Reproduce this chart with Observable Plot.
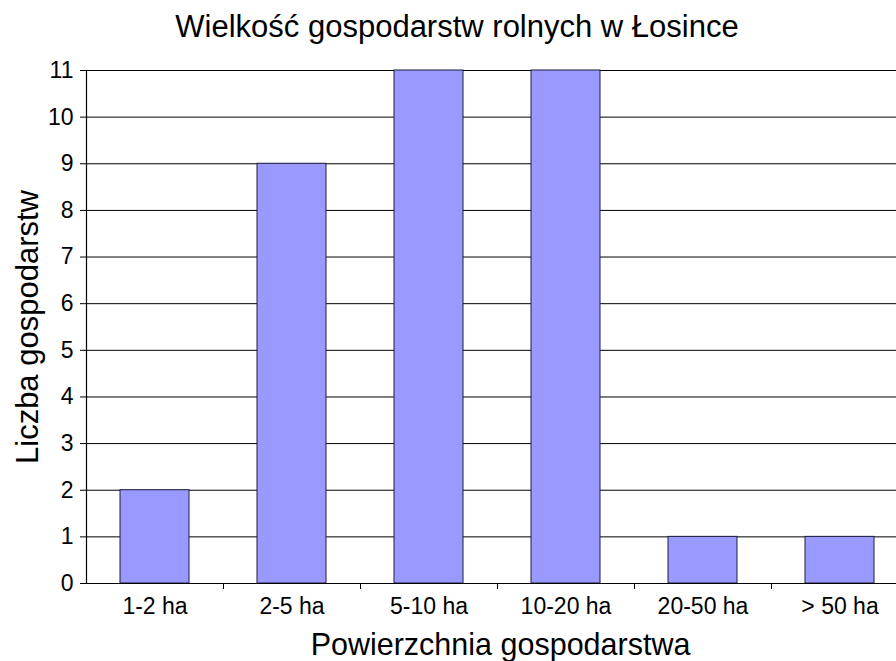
<!DOCTYPE html>
<html><head><meta charset="utf-8">
<script src="https://cdn.jsdelivr.net/npm/d3@7"></script>
<script src="https://cdn.jsdelivr.net/npm/@observablehq/plot@0.6"></script>
<style>
body{margin:0;background:#fff;font-family:"Liberation Sans",Arial,sans-serif}
#title{width:896px;height:50px;box-sizing:border-box;padding-left:18px;text-align:center;font-size:31px;line-height:54px;color:#000;white-space:nowrap;overflow:visible}
</style></head><body>
<div id="title">Wielkość gospodarstw rolnych w Łosince</div>
<div id="chart"></div>
<script>
const categories = ["1-2 ha", "2-5 ha", "5-10 ha", "10-20 ha", "20-50 ha", "> 50 ha"];
const counts = [2, 9, 11, 11, 1, 1];
const yTicks = [0, 1, 2, 3, 4, 5, 6, 7, 8, 9, 10, 11];
const xLabel = "Powierzchnia gospodarstwa";
const yLabel = "Liczba gospodarstw";

const data = categories.map((c, i) => ({category: c, index: i, count: counts[i]}));
const boundaries = d3.range(1, categories.length);
const centers = data.map(d => d.index + 0.5);

const chart = Plot.plot({
  width: 896,
  height: 611,
  marginLeft: 86,
  marginRight: -12,
  marginTop: 20,
  marginBottom: 78,
  style: {fontFamily: '"Liberation Sans", Arial, sans-serif', fontSize: "23px", color: "#000", background: "#fff", overflow: "hidden"},
  x: {domain: [0, categories.length], axis: null},
  y: {domain: [0, 11], axis: null},
  marks: [
    Plot.gridY(yTicks, {stroke: "#000", strokeOpacity: 1, strokeWidth: 1}),
    Plot.rectY(data, {x1: "index", x2: d => d.index + 1, y: "count", insetLeft: 34, insetRight: 34,
      fill: "#9999FF", stroke: "#1c1c3c", strokeWidth: 1}),
    Plot.ruleX([0], {stroke: "#000", strokeWidth: 1.2}),
    Plot.ruleY([0], {stroke: "#000", strokeWidth: 1.2}),
    Plot.axisY(yTicks, {tickSize: 6, tickPadding: 7, label: null, fontSize: 23, stroke: "#000"}),
    Plot.axisX(centers, {tickFormat: v => categories[Math.floor(v)], tickSize: 0, tickPadding: 14, label: null, fontSize: 23}),
    Plot.axisX(boundaries, {tickSize: 6, tickFormat: () => "", label: null, stroke: "#000"}),
    Plot.text([yLabel], {text: d => d, frameAnchor: "left", textAnchor: "middle", dx: -58, rotate: -90, fontSize: 31, lineAnchor: "middle"}),
    Plot.text([xLabel], {text: d => d, frameAnchor: "bottom", textAnchor: "middle", dx: 3, dy: 62, fontSize: 30.5, lineAnchor: "middle"})
  ]
});
document.getElementById("chart").appendChild(chart);
</script>
</body></html>
